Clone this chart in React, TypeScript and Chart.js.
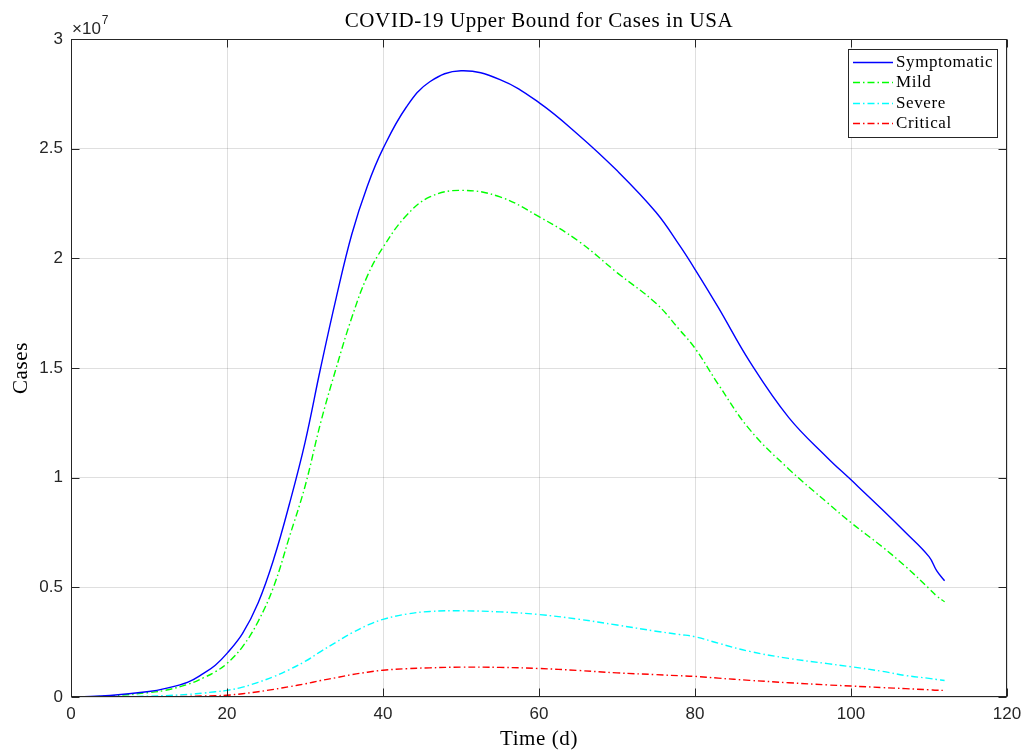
import { useEffect, useRef } from "react";
import { Chart, registerables } from "chart.js";

Chart.register(...registerables);

// Time axis (days) at which the model output was sampled
const days = [1, 5, 10, 12, 15, 17, 18.5, 20, 22, 24, 26, 28, 30, 32, 34, 36, 38, 40, 43, 46, 50, 55, 60, 65, 70, 75, 78, 80, 83, 87, 92, 97, 100, 104, 107, 110, 111, 112];

// Case counts in millions
const symptomatic = [0, 0.07, 0.25, 0.38, 0.68, 1.08, 1.45, 1.99, 2.9, 4.3, 6.3, 8.8, 11.6, 15.0, 18.2, 21.1, 23.3, 25.0, 26.9, 28.05, 28.55, 28.15, 27.1, 25.65, 24.0, 22.1, 20.6, 19.5, 17.75, 15.3, 12.75, 10.9, 9.9, 8.55, 7.5, 6.4, 5.75, 5.3];
const mild = [0, 0.05, 0.2, 0.3, 0.58, 0.88, 1.15, 1.53, 2.3, 3.45, 5.05, 7.3, 9.6, 12.5, 15.0, 17.3, 19.2, 20.5, 21.95, 22.8, 23.1, 22.8, 21.9, 20.8, 19.35, 17.95, 16.75, 15.9, 14.25, 12.2, 10.4, 8.85, 7.95, 6.85, 5.95, 4.95, 4.6, 4.34];
const severe = [0, 0.01, 0.04, 0.06, 0.12, 0.18, 0.24, 0.3, 0.45, 0.67, 0.93, 1.25, 1.62, 2.07, 2.5, 2.92, 3.27, 3.54, 3.78, 3.9, 3.93, 3.88, 3.76, 3.55, 3.28, 3.0, 2.85, 2.75, 2.45, 2.08, 1.76, 1.52, 1.38, 1.17, 0.98, 0.85, 0.8, 0.75];
const critical = [0, 0.0, 0.01, 0.015, 0.03, 0.045, 0.06, 0.08, 0.15, 0.24, 0.35, 0.47, 0.6, 0.75, 0.88, 1.02, 1.13, 1.22, 1.29, 1.33, 1.36, 1.35, 1.3, 1.21, 1.1, 1.02, 0.97, 0.94, 0.86, 0.76, 0.65, 0.55, 0.5, 0.43, 0.38, 0.33, 0.31, 0.3];

const MILLION = 1e6;
const Y_EXPONENT = 1e7;

const xTicks = [0, 20, 40, 60, 80, 100, 120];
const yTicks = [0, 0.5, 1, 1.5, 2, 2.5, 3]; // in units of 10^7

const seriesNames = ["Symptomatic", "Mild", "Severe", "Critical"];
const seriesColors = ["#0000ff", "#00ff00", "#00ffff", "#ff0000"];
const seriesValues = [symptomatic, mild, severe, critical];

const TITLE = "COVID-19 Upper Bound for Cases in USA";
const X_LABEL = "Time (d)";
const Y_LABEL = "Cases";

const AXIS_COLOR = "#262626";
const SERIF = "'Liberation Serif', 'Times New Roman', serif";
const SANS = "'Liberation Sans', Arial, sans-serif";
const DASH_DOT = [7, 3, 1.5, 3];
const TICK_LEN = 8;

const decorations = {
  id: "matlabDecorations",
  afterDatasetsDraw(chart: any) {
    const { ctx, chartArea: a, scales } = chart;
    const L = Math.round(a.left) + 0.5;
    const R = Math.round(a.right) - 0.5;
    const T = Math.round(a.top) + 0.5;
    const B = Math.round(a.bottom) - 0.5;
    ctx.save();
    ctx.strokeStyle = AXIS_COLOR;
    ctx.lineWidth = 1;
    ctx.setLineDash([]);
    ctx.strokeRect(L, T, R - L, B - T);

    // inward tick marks on all four sides
    ctx.beginPath();
    xTicks.forEach((v) => {
      const px = Math.round(scales.x.getPixelForValue(v)) + 0.5;
      ctx.moveTo(px, B);
      ctx.lineTo(px, B - TICK_LEN);
      ctx.moveTo(px, T);
      ctx.lineTo(px, T + TICK_LEN);
    });
    yTicks.forEach((v) => {
      const py = Math.round(scales.y.getPixelForValue(v * Y_EXPONENT)) + 0.5;
      ctx.moveTo(L, py);
      ctx.lineTo(L + TICK_LEN, py);
      ctx.moveTo(R, py);
      ctx.lineTo(R - TICK_LEN, py);
    });
    ctx.stroke();

    // legend box
    const lx = 848.5, ly = 49.5, lw = 149, lh = 88;
    ctx.fillStyle = "#ffffff";
    ctx.fillRect(lx, ly, lw, lh);
    ctx.strokeStyle = AXIS_COLOR;
    ctx.strokeRect(lx, ly, lw, lh);
    ctx.font = `17px ${SERIF}`;
    (ctx as any).letterSpacing = "0.6px";
    ctx.textBaseline = "middle";
    ctx.textAlign = "left";
    seriesNames.forEach((name, i) => {
      const y = 61.5 + i * 20.5;
      ctx.strokeStyle = seriesColors[i];
      ctx.lineWidth = 1.4;
      ctx.setLineDash(i === 0 ? [] : DASH_DOT);
      ctx.beginPath();
      ctx.moveTo(853, Math.round(y) + 0.5);
      ctx.lineTo(893, Math.round(y) + 0.5);
      ctx.stroke();
      ctx.fillStyle = "#000000";
      ctx.fillText(name, 896, y + 1);
    });
    ctx.restore();
  },
  afterDraw(chart: any) {
    const { ctx, chartArea: a } = chart;
    const cx = (a.left + a.right) / 2;
    ctx.save();
    ctx.fillStyle = "#000000";
    ctx.textAlign = "center";
    ctx.textBaseline = "middle";
    ctx.font = `21px ${SERIF}`;
    (ctx as any).letterSpacing = "0.6px";
    ctx.fillText(TITLE, cx, 21);
    ctx.fillText(X_LABEL, cx, 739);
    ctx.save();
    ctx.translate(21, (a.top + a.bottom) / 2);
    ctx.rotate(-Math.PI / 2);
    ctx.fillText(Y_LABEL, 0, 0);
    ctx.restore();

    // exponent marker for the y axis
    (ctx as any).letterSpacing = "0px";
    ctx.fillStyle = AXIS_COLOR;
    ctx.textAlign = "left";
    ctx.textBaseline = "alphabetic";
    ctx.font = `17px ${SANS}`;
    ctx.fillText("\u00d710", 72, 34);
    const w = ctx.measureText("\u00d710").width;
    ctx.font = `12px ${SANS}`;
    ctx.fillText("7", 72 + w + 1, 24);
    ctx.restore();
  },
};

export default function App() {
  const canvasRef = useRef<HTMLCanvasElement | null>(null);

  useEffect(() => {
    const canvas = canvasRef.current;
    if (!canvas) return;

    const datasets = seriesNames.map((name, i) => ({
      label: name,
      data: days.map((d, j) => ({ x: d, y: seriesValues[i][j] * MILLION })),
      borderColor: seriesColors[i],
      backgroundColor: seriesColors[i],
      borderWidth: 1.4,
      borderDash: i === 0 ? [] : DASH_DOT,
      pointRadius: 0,
      fill: false,
      tension: 0.4,
    }));

    const chart = new Chart(canvas, {
      type: "line",
      data: { datasets },
      options: {
        responsive: false,
        animation: false,
        layout: { padding: { top: 39, right: 19, left: 0, bottom: 0 } },
        plugins: {
          legend: { display: false },
          title: { display: false },
          tooltip: { enabled: false },
        },
        scales: {
          x: {
            type: "linear",
            min: 0,
            max: 120,
            afterFit: (s: any) => {
              s.height = 56;
              s.paddingLeft = 0;
              s.paddingRight = 0;
            },
            afterBuildTicks: (s: any) => {
              s.ticks = xTicks.map((v) => ({ value: v }));
            },
            ticks: {
              color: AXIS_COLOR,
              font: { family: SANS, size: 17 },
              padding: 7,
              maxRotation: 0,
              callback: (v: any) => String(v),
            },
            grid: { color: "rgba(38,38,38,0.15)", drawTicks: false },
            border: { display: false },
          },
          y: {
            type: "linear",
            min: 0,
            max: 3 * Y_EXPONENT,
            afterFit: (s: any) => {
              s.width = 71;
              s.paddingTop = 0;
              s.paddingBottom = 0;
            },
            afterBuildTicks: (s: any) => {
              s.ticks = yTicks.map((v) => ({ value: v * Y_EXPONENT }));
            },
            ticks: {
              color: AXIS_COLOR,
              font: { family: SANS, size: 17 },
              padding: 8,
              callback: (v: any) => String(Number(v) / Y_EXPONENT),
            },
            grid: { color: "rgba(38,38,38,0.15)", drawTicks: false },
            border: { display: false },
          },
        },
      },
      plugins: [decorations],
    });

    return () => chart.destroy();
  }, []);

  return (
    <div style={{ position: "fixed", left: 0, top: 0, width: 1026, height: 753, background: "#ffffff" }}>
      <canvas ref={canvasRef} width={1026} height={753} style={{ display: "block" }} />
    </div>
  );
}
